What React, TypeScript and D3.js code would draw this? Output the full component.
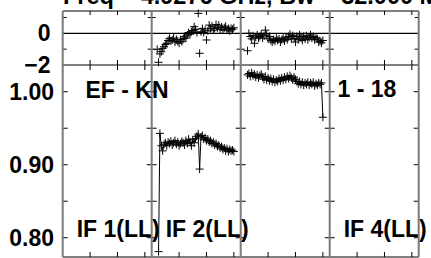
import React from 'react'
import * as d3 from 'd3'

// POSSM style plot: phase (top) and amplitude (bottom), 4 IFs side by side
const titleText = 'Freq = 4.9276 GHz, Bw = 32.000 MHz'
const baselineLabel = 'EF - KN'
const timeLabel = '1 - 18'
const ifLabels = ['IF 1(LL)', 'IF 2(LL)', '', 'IF 4(LL)']

const channelTicks = [20, 40, 60]
const phaseTicks = [-2, -1, 0, 1]
const phaseTickLabels = [-2, 0]
const ampTicks = [0.8, 0.85, 0.9, 0.95, 1.0]
const ampTickLabels = [0.8, 0.9, 1.0]

// IF 2
const phaseIF2Start = 4
const phaseIF2 = [
  -1.01, -1.83, -1.30, -1.16, -0.95, -0.85, -0.70, -0.63, -0.45, -0.32,
  -0.48, -0.42, -0.30, -0.55, -0.38, -0.50, -0.62, -0.40, -0.53, -0.35,
  -0.21, -0.30, -0.10, 0.05, -0.05, 0.10, 0.18, 0.42, 0.25, 0.05,
  1.26, -1.26, 0.10, 0.30, 0.05, 0.20, -0.42, 0.15, 0.52, 0.30,
  0.45, 0.20, 0.31, 0.55, 0.35, 0.52, 0.25, 0.40, 0.21, 0.35,
  0.45, 0.21, 0.30, 0.15, 0.31, 0.25, 0.35,
]
const ampIF2Start = 5
const ampIF2 = [
  0.781, 0.943, 0.926, 0.919, 0.928, 0.930, 0.926, 0.931, 0.929, 0.932,
  0.927, 0.930, 0.933, 0.928, 0.931, 0.926, 0.929, 0.932, 0.930, 0.927,
  0.933, 0.929, 0.935, 0.931, 0.926, 0.934, 0.930, 0.936, 0.939, 0.942,
  0.894, 0.938, 0.940, 0.935, 0.937, 0.933, 0.935, 0.931, 0.933, 0.929,
  0.931, 0.927, 0.929, 0.925, 0.927, 0.923, 0.925, 0.921, 0.923, 0.919,
  0.922, 0.918, 0.921, 0.919, 0.920, 0.918,
]

// IF 3
const phaseIF3Start = 5
const phaseIF3 = [
  -1.10, 0.00, -0.20, -0.35, -0.15, -0.63, -0.25, -0.10, -0.30, -0.20,
  -0.05, -0.30, -0.15, 0.20, -0.10, -0.35, -0.20, -0.45, -0.55, -0.40,
  -0.50, -0.30, -0.45, -0.35, -0.55, -0.40, -0.30, -0.48, -0.25, -0.40,
  -0.20, -0.05, -0.35, -0.15, -0.30, -0.55, -0.20, -0.40, -0.10, -0.30,
  -0.45, -0.20, -0.35, -0.15, -0.40, -0.25, -0.10, -0.30, -0.20, -0.40,
  -0.25, -0.35, -0.55, -0.50, -0.60, -0.45,
]
const ampIF3Start = 5
const ampIF3 = [
  1.023, 1.025, 1.021, 1.026, 1.022, 1.024, 1.020, 1.023, 1.019, 1.022,
  1.024, 1.020, 1.017, 1.021, 1.016, 1.019, 1.015, 1.018, 1.014, 1.017,
  1.013, 1.016, 1.014, 1.018, 1.015, 1.019, 1.016, 1.020, 1.017, 1.021,
  1.018, 1.022, 1.019, 1.016, 1.020, 1.017, 1.014, 1.011, 1.014, 1.010,
  1.013, 1.009, 1.012, 1.010, 1.013, 1.009, 1.012, 1.010, 1.013, 1.008,
  1.011, 1.009, 1.012, 1.010, 1.012, 0.965,
]

const panels = [
  null,
  { phase: phaseIF2, phaseStart: phaseIF2Start, amp: ampIF2, ampStart: ampIF2Start },
  { phase: phaseIF3, phaseStart: phaseIF3Start, amp: ampIF3, ampStart: ampIF3Start },
  null,
]

const W = 431
const H = 258
const left = 62.7
const panelW = 89
const phaseTop = 11
const mid = 65
const bottom = 257
const font = '"Liberation Sans", Arial, Helvetica, sans-serif'

const yPhase = d3.scaleLinear().domain([-2, 1.41]).range([mid, phaseTop])
const yAmp = d3.scaleLinear().domain([0.7736, 1.0366]).range([bottom, mid])

function cross(x: number, y: number, r = 4) {
  return `M${x - r},${y}h${2 * r}M${x},${y - r}v${2 * r}`
}

export default function App() {
  const lefts = d3.range(panels.length).map(i => left + i * panelW)
  const right = left + panels.length * panelW
  const grey = '#7a7a7a'

  return (
    <svg width={W} height={H} style={{ position: 'absolute', left: 0, top: 0, background: '#fff' }}
      fontFamily={font} fontWeight="bold">
      <text x={63} y={4} fontSize={23.5}>{titleText}</text>

      {/* horizontal frame lines */}
      {[phaseTop, yPhase(0), mid, bottom].map((y, i) => (
        <line key={'h' + i} x1={left} x2={right} y1={y} y2={y} stroke="#000" strokeWidth={1.2} />
      ))}

      {lefts.map((x0, pi) => {
        const x = d3.scaleLinear().domain([0, 65]).range([x0, x0 + panelW])
        const p = panels[pi]
        const ampLine = d3.line<number>()
          .x((d, i) => x((p ? p.ampStart : 0) + i))
          .y(d => yAmp(d))
        return (
          <g key={'p' + pi}>
            {/* channel ticks */}
            {channelTicks.map(c => (
              <g key={'c' + c} stroke="#000" strokeWidth={1}>
                <line x1={x(c)} x2={x(c)} y1={phaseTop} y2={phaseTop + 4} />
                <line x1={x(c)} x2={x(c)} y1={mid - 5} y2={mid + 5} />
                <line x1={x(c)} x2={x(c)} y1={bottom} y2={bottom - 5} />
              </g>
            ))}
            {/* value ticks on both edges */}
            {[x0, x0 + panelW].map((ex, k) => {
              const dir = k === 0 ? 1 : -1
              return (
                <g key={'e' + k} stroke="#000" strokeWidth={1}>
                  {phaseTicks.filter(t => t !== 0 && t !== -2).map(t => (
                    <line key={'pt' + t} x1={ex} x2={ex + dir * 4} y1={yPhase(t)} y2={yPhase(t)} />
                  ))}
                  {ampTicks.map(t => (
                    <line key={'at' + t} x1={ex} x2={ex + dir * 5} y1={yAmp(t)} y2={yAmp(t)} />
                  ))}
                </g>
              )
            })}
            {p && (
              <g>
                {p.phase.map((v, i) => (
                  <path key={'ph' + i} d={cross(x(p.phaseStart + i), yPhase(v))} stroke="#000" strokeWidth={1} fill="none" />
                ))}
                <path d={ampLine(p.amp) || ''} fill="none" stroke="#000" strokeWidth={1} />
                {p.amp.map((v, i) => (
                  <path key={'am' + i} d={cross(x(p.ampStart + i), yAmp(v))} stroke="#000" strokeWidth={1} fill="none" />
                ))}
              </g>
            )}
            {ifLabels[pi] && (
              <text x={x0 + 14} y={236.5} fontSize={23}>{ifLabels[pi]}</text>
            )}
          </g>
        )
      })}

      {/* grey panel dividers */}
      {d3.range(panels.length + 1).map(i => (
        <line key={'v' + i} x1={left + i * panelW} x2={left + i * panelW} y1={phaseTop} y2={bottom}
          stroke={grey} strokeWidth={2} />
      ))}

      {/* axis labels */}
      {phaseTickLabels.map(t => (
        <text key={'pl' + t} x={50.5} y={yPhase(t) + 8} fontSize={23} textAnchor="end">{d3.format('d')(t)}</text>
      ))}
      {ampTickLabels.map(t => (
        <text key={'al' + t} x={54} y={yAmp(t) + 8.3} fontSize={23} textAnchor="end">{d3.format('.2f')(t)}</text>
      ))}

      <text x={85.5} y={98.3} fontSize={23}>{baselineLabel}</text>
      <text x={337.5} y={97.3} fontSize={23}>{timeLabel}</text>
    </svg>
  )
}
